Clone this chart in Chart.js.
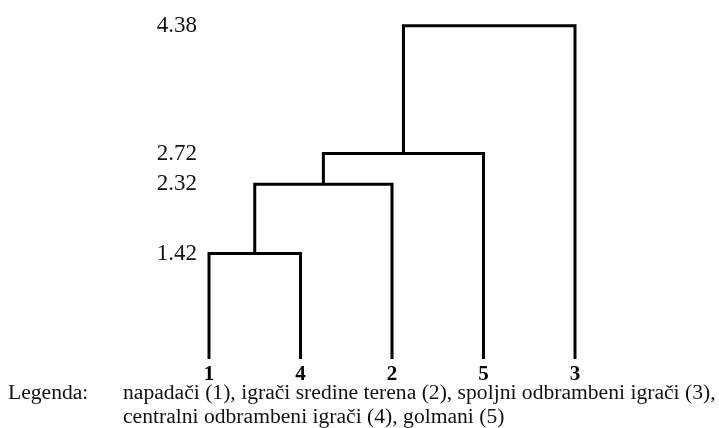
<!DOCTYPE html>
<html lang="sr">
<head>
    <meta charset="UTF-8">
    <title>Dendrogram</title>
    <script src="https://cdn.jsdelivr.net/npm/chart.js"></script>
    <style>
        html, body { margin: 0; padding: 0; background: #fff; }
        .wrap { position: relative; width: 719px; height: 428px; overflow: hidden; }
        .wrap canvas { position: absolute; left: 0; top: 0; }
        .legend {
            position: absolute;
            top: 380px;
            font-family: "Liberation Serif", "DejaVu Serif", serif;
            font-size: 20px;
            line-height: 24px;
            color: #111;
            white-space: nowrap;
            transform: scaleX(1.08);
            transform-origin: left top;
        }
    </style>
</head>
<body>
    <div class="wrap">
        <canvas id="dendro" width="719" height="428"></canvas>
        <div class="legend" style="left: 8px;">Legenda:</div>
        <div class="legend" style="left: 123px;">napadači (1), igrači sredine terena (2), spoljni odbrambeni igrači (3),<br>centralni odbrambeni igrači (4), golmani (5)</div>
    </div>

    <script>
        // leaves in plotted order, then merges (node ids: leaves 0-4, merges 5..)
        const leafLabels = ['1', '4', '2', '5', '3'];
        const mergeA = [0, 5, 6, 7];
        const mergeB = [1, 2, 3, 4];
        const mergeHeight = [1.42, 2.32, 2.72, 4.38];
        const leafBase = 0.05;

        // node positions from the tree
        let nodeX = leafLabels.map((_, i) => i);
        let nodeY = leafLabels.map(() => leafBase);
        let datasets = [];
        mergeHeight.forEach((h, k) => {
            const a = mergeA[k], b = mergeB[k];
            datasets.push({
                data: [
                    { x: nodeX[a], y: nodeY[a] },
                    { x: nodeX[a], y: h },
                    { x: nodeX[b], y: h },
                    { x: nodeX[b], y: nodeY[b] }
                ],
                showLine: true,
                borderColor: '#000',
                borderWidth: 3,
                borderJoinStyle: 'miter',
                pointRadius: 0,
                clip: false
            });
            nodeX.push((nodeX[a] + nodeX[b]) / 2);
            nodeY.push(h);
        });

        const ctx = document.getElementById('dendro').getContext('2d');
        new Chart(ctx, {
            type: 'scatter',
            data: { datasets: datasets },
            options: {
                responsive: false,
                animation: false,
                layout: { padding: { top: 24, left: 0, right: 144, bottom: 0 } },
                plugins: { legend: { display: false }, tooltip: { enabled: false } },
                scales: {
                    x: {
                        type: 'linear',
                        min: 0,
                        max: leafLabels.length - 1,
                        grid: { display: false, drawTicks: false },
                        border: { display: false },
                        afterBuildTicks: s => { s.ticks = leafLabels.map((_, i) => ({ value: i })); },
                        afterFit: s => { s.height = 69; s.paddingLeft = 0; s.paddingRight = 0; },
                        ticks: {
                            padding: 3,
                            color: '#000',
                            maxRotation: 0,
                            font: { family: '"Liberation Serif", serif', size: 21, weight: 'bold' },
                            callback: v => leafLabels[v]
                        }
                    },
                    y: {
                        min: leafBase,
                        max: mergeHeight[mergeHeight.length - 1],
                        grid: { display: false, drawTicks: false },
                        border: { display: false },
                        afterBuildTicks: s => { s.ticks = mergeHeight.map(v => ({ value: v })); },
                        afterFit: s => { s.width = 209; },
                        ticks: {
                            padding: 12,
                            color: '#111',
                            font: { family: '"Liberation Serif", serif', size: 23 },
                            callback: v => v.toFixed(2)
                        }
                    }
                }
            }
        });
    </script>
</body>
</html>
